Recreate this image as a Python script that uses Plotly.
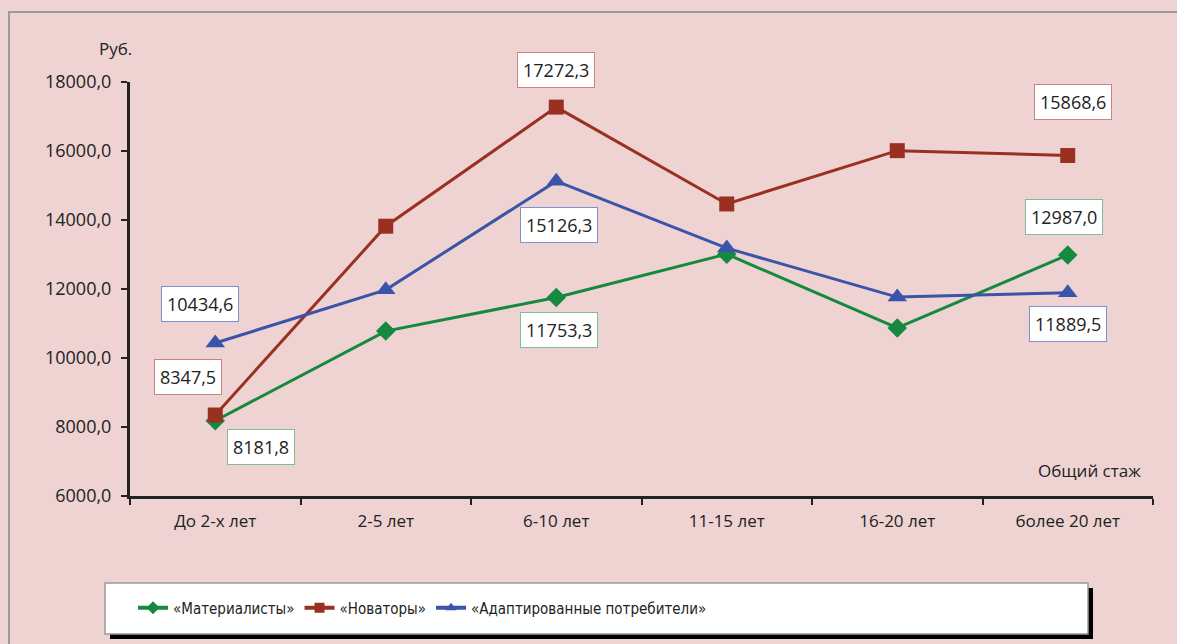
import plotly.graph_objects as go

categories = ["До 2-х лет", "2-5 лет", "6-10 лет", "11-15 лет", "16-20 лет", "более 20 лет"]
materialists = [8181.8, 10780.0, 11753.3, 13010.0, 10870.0, 12987.0]
innovators = [8347.5, 13820.0, 17272.3, 14465.0, 16010.0, 15868.6]
adapted = [10434.6, 11975.0, 15126.3, 13185.0, 11765.0, 11889.5]
series_names = ["«Материалисты»", "«Новаторы»", "«Адаптированные потребители»"]
y_ticks = [6000, 8000, 10000, 12000, 14000, 16000, 18000]

# labelled points: (series index, category index, x shift px, y shift px)
label_specs = [
    (0, 0, 46, -26), (0, 2, 3, -32), (0, 5, -4, 38),
    (1, 0, -27, 38), (1, 2, 0, 37), (1, 5, 5, 54),
    (2, 0, -15, 39), (2, 2, 3, -44), (2, 5, 0, -31),
]

colors = ["#15893F", "#9A3120", "#3954A8"]
border_colors = ["#7FBF98", "#C9837A", "#8090CC"]
symbols = ["diamond", "square", "triangle-up"]
sizes = [15, 15, 17]
data = [materialists, innovators, adapted]
BG = "#EFD3D3"

W, H = 1177, 644
L, R, T, B = 130, 24, 82, 148
pw, ph = W - L - R, H - T - B

def px(x):
    return (x - L) / pw

def py(y):
    return (H - B - y) / ph

fig = go.Figure()
for i in range(3):
    fig.add_trace(go.Scatter(
        x=categories, y=data[i], name=series_names[i], mode="lines+markers",
        line=dict(color=colors[i], width=3), legendgroup=str(i), showlegend=False,
        marker=dict(symbol=symbols[i], size=sizes[i], color=colors[i]),
    ))
# legend entries (smaller markers, as in the original legend)
for i in range(3):
    fig.add_trace(go.Scatter(
        x=[None], y=[None], name=series_names[i], mode="lines+markers",
        line=dict(color=colors[i], width=4), legendgroup=str(i),
        marker=dict(symbol=symbols[i], size=10, color=colors[i]),
    ))

ann = []
for s, c, dx, dy in label_specs:
    v = data[s][c]
    ann.append(dict(
        x=categories[c], y=v, text=f"{v:.1f}".replace(".", ","), showarrow=False,
        xshift=dx, yshift=dy, bgcolor="white", bordercolor=border_colors[s],
        borderwidth=1, borderpad=5, font=dict(family="Open Sans", size=18, color="#222"),
    ))
ann.append(dict(xref="paper", yref="paper", x=px(115), y=py(48), xanchor="center", yanchor="middle",
                text="Руб.", showarrow=False, font=dict(family="Open Sans", size=17, color="#222")))
ann.append(dict(xref="paper", yref="paper", x=px(1143), y=py(470), xanchor="right", yanchor="middle",
                text="Общий стаж", showarrow=False,
                font=dict(family="Open Sans", size=17, color="#222")))

shapes = [
    dict(type="rect", xref="paper", yref="paper", x0=px(9), y0=py(800), x1=px(1400), y1=py(12),
         line=dict(color="#9A9A9A", width=2), layer="below"),
    dict(type="rect", xref="paper", yref="paper", x0=px(110), y0=py(639), x1=px(1093), y1=py(588),
         line=dict(width=0), fillcolor="black", layer="below"),
    dict(type="rect", xref="paper", yref="paper", x0=px(105), y0=py(634), x1=px(1088), y1=py(583),
         line=dict(color="#9A9A9A", width=1.5), fillcolor="white", layer="below"),
]

fig.update_layout(
    width=W, height=H, margin=dict(l=L, r=R, t=T, b=B),
    paper_bgcolor=BG, plot_bgcolor=BG,
    separators=",.",
    font=dict(family="Open Sans", size=16, color="#222"),
    showlegend=True,
    legend=dict(orientation="h", x=px(133), y=py(608), xanchor="left", yanchor="middle",
                bgcolor="rgba(0,0,0,0)",
                font=dict(family="DejaVu Sans Condensed, Liberation Sans", size=15, color="#222"),
                itemwidth=30),
    annotations=ann, shapes=shapes,
    xaxis=dict(range=[-0.5, 5.5], showline=True, linecolor="#222", linewidth=3, ticks="outside",
               tickson="boundaries", ticklen=6, tickwidth=2, tickcolor="#222", showgrid=False,
               zeroline=False, ticklabelstandoff=8,
               tickfont=dict(family="Open Sans", size=17, color="#222")),
    yaxis=dict(range=[6000, 18000], tickvals=y_ticks, tickformat=".1f", showline=True,
               linecolor="#222", linewidth=3, ticks="outside", ticklen=6, tickwidth=2,
               tickcolor="#222", showgrid=False, zeroline=False, ticklabelstandoff=6,
               tickfont=dict(family="Open Sans", size=18, color="#222")),
)
fig.write_html(
    "out.html",
    config={"displayModeBar": False},
    post_script="document.body.style.margin='0';document.body.style.overflow='hidden';"
                "document.body.style.background='" + BG + "';",
)
